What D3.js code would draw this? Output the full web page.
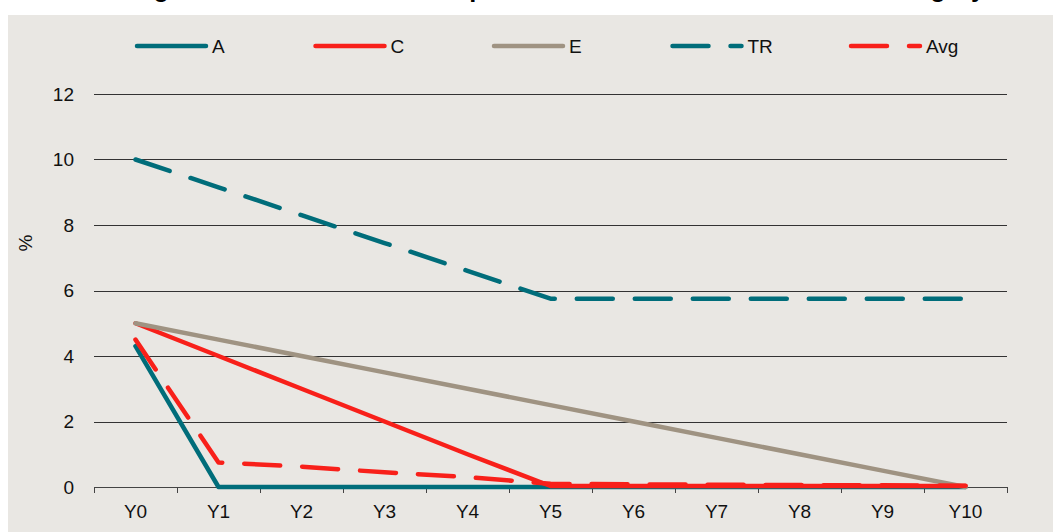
<!DOCTYPE html>
<html>
<head>
<meta charset="utf-8">
<script src="https://cdn.jsdelivr.net/npm/d3@7"></script>
<style>
  html, body { margin: 0; padding: 0; background: #fff; }
  svg { display: block; }
</style>
</head>
<body>
<div id="chart"></div>
<script>
// chart data
var years = ["Y0", "Y1", "Y2", "Y3", "Y4", "Y5", "Y6", "Y7", "Y8", "Y9", "Y10"];
var seriesA   = [4.3, 0, 0, 0, 0, 0, 0, 0, 0, 0, 0];
var seriesC   = [5, 4, 3, 2, 1, 0.03, 0.03, 0.03, 0.03, 0.03, 0.03];
var seriesE   = [5, 4.5, 4, 3.5, 3, 2.5, 2, 1.5, 1, 0.5, 0];
var seriesTR  = [10, 9.15, 8.3, 7.45, 6.6, 5.75, 5.75, 5.75, 5.75, 5.75, 5.75];
var seriesAvg = [4.5, 0.75, 0.62, 0.45, 0.3, 0.1, 0.08, 0.07, 0.06, 0.05, 0.04];
var yTicks = [0, 2, 4, 6, 8, 10, 12];
var legendNames = ["A", "C", "E", "TR", "Avg"];
var titleText = "Average Effective Tax Rate Comparison Over the Horizon in Each Category";

var series = [
  {name: "A",   values: seriesA,   color: "#006d7a", dash: null},
  {name: "C",   values: seriesC,   color: "#f8201a", dash: null},
  {name: "E",   values: seriesE,   color: "#9f9382", dash: null},
  {name: "TR",  values: seriesTR,  color: "#006d7a", dash: "36,22"},
  {name: "Avg", values: seriesAvg, color: "#f8201a", dash: "36,22"}
];

var W = 1053, H = 532;
var margin = {top: 94, right: 46, bottom: 45, left: 94},
    width = W - margin.left - margin.right,
    height = 487 - margin.top;

var svg = d3.select("#chart").append("svg")
  .attr("width", W)
  .attr("height", H);

// title sits mostly above the page, only its descenders show
svg.append("text")
  .attr("x", 84)
  .attr("y", -3)
  .attr("font-family", "Liberation Sans, Arial, sans-serif")
  .attr("font-weight", "bold")
  .attr("font-size", 25.3)
  .attr("fill", "#000")
  .text(titleText);

// panel background
svg.append("rect")
  .attr("x", 8).attr("y", 15)
  .attr("width", W - 8).attr("height", H - 15)
  .attr("fill", "#e9e7e3");

var g = svg.append("g")
  .attr("transform", "translate(" + margin.left + "," + margin.top + ")");

var x = d3.scaleBand().domain(years).range([0, width]);
var y = d3.scaleLinear().domain([0, 12]).range([height, 0]);

// gridlines
g.append("g")
  .selectAll("line")
  .data(yTicks.filter(function(d){ return d > 0; }))
  .enter().append("line")
  .attr("x1", 0).attr("x2", width)
  .attr("y1", function(d){ return Math.round(y(d)) + 0.5; })
  .attr("y2", function(d){ return Math.round(y(d)) + 0.5; })
  .attr("stroke", "#333")
  .attr("stroke-width", 1);

// y axis labels
var yAxis = d3.axisLeft(y).tickValues(yTicks).tickSize(0).tickPadding(20);
var yg = g.append("g").call(yAxis);
yg.select(".domain").remove();
yg.selectAll("text")
  .attr("font-family", "Liberation Sans, Arial, sans-serif")
  .attr("font-size", 19)
  .attr("fill", "#111");

// x axis with ticks at band boundaries
var xg = g.append("g")
  .attr("transform", "translate(0," + height + ")")
  .call(d3.axisBottom(x).tickSize(0).tickPadding(18));
xg.select(".domain").remove();
xg.selectAll("text")
  .attr("font-family", "Liberation Sans, Arial, sans-serif")
  .attr("font-size", 19)
  .attr("fill", "#111");
xg.append("line")
  .attr("x1", 0).attr("x2", width)
  .attr("y1", 0.5).attr("y2", 0.5)
  .attr("stroke", "#444");
xg.selectAll("line.tk")
  .data(years.concat(["end"]))
  .enter().append("line")
  .attr("class", "tk")
  .attr("x1", function(d, i){ return Math.round(i * x.step()) + 0.5; })
  .attr("x2", function(d, i){ return Math.round(i * x.step()) + 0.5; })
  .attr("y1", 0).attr("y2", 6)
  .attr("stroke", "#444");

// y title
svg.append("text")
  .attr("transform", "translate(32,243) rotate(-90)")
  .attr("text-anchor", "middle")
  .attr("font-family", "Liberation Sans, Arial, sans-serif")
  .attr("font-size", 19)
  .attr("fill", "#111")
  .text("%");

// lines
var line = d3.line()
  .x(function(d, i){ return x(years[i]) + x.bandwidth() / 2; })
  .y(function(d){ return y(d); });

g.selectAll("path.series")
  .data(series)
  .enter().append("path")
  .attr("class", "series")
  .attr("d", function(s){ return line(s.values); })
  .attr("fill", "none")
  .attr("stroke", function(s){ return s.color; })
  .attr("stroke-width", 4.5)
  .attr("stroke-linecap", "round")
  .attr("stroke-linejoin", "round")
  .attr("stroke-dasharray", function(s){ return s.dash; });

// legend
var legend = svg.append("g").attr("transform", "translate(137,46)");
var items = legend.selectAll("g")
  .data(series)
  .enter().append("g")
  .attr("transform", function(d, i){ return "translate(" + (i * 178.5) + ",0)"; });
items.append("line")
  .attr("x1", 0).attr("x2", 69)
  .attr("stroke", function(d){ return d.color; })
  .attr("stroke-width", 4.5)
  .attr("stroke-linecap", "round")
  .attr("stroke-dasharray", function(d){ return d.dash; });
items.append("text")
  .attr("x", 75)
  .attr("y", 7)
  .attr("font-family", "Liberation Sans Narrow, Liberation Sans, Arial, sans-serif")
  .attr("font-size", 19)
  .attr("fill", "#111")
  .text(function(d, i){ return legendNames[i]; });
</script>
</body>
</html>
